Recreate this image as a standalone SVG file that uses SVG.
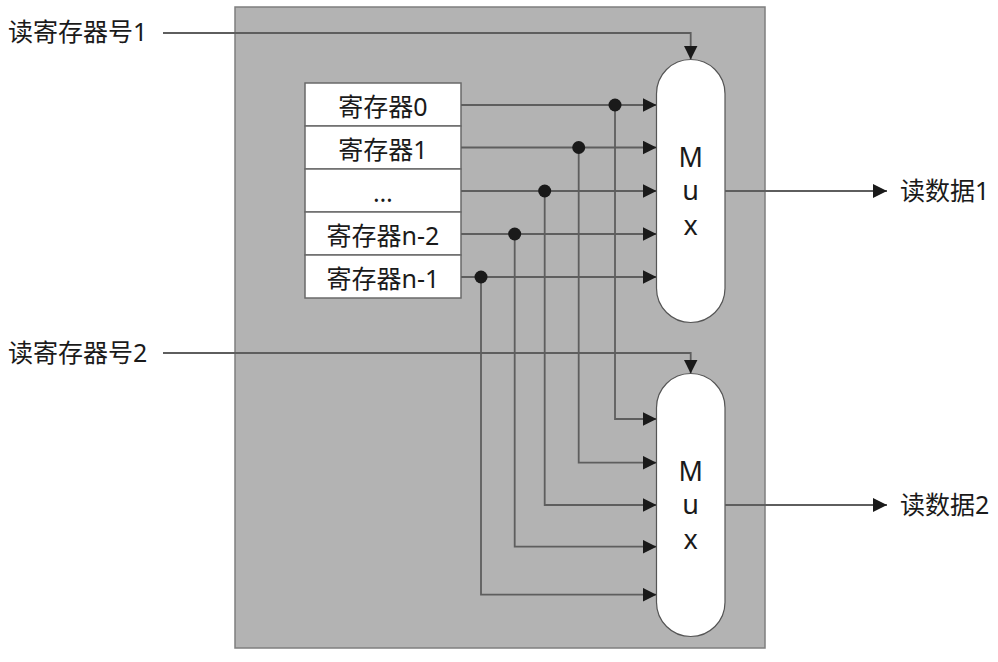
<svg xmlns="http://www.w3.org/2000/svg" width="998" height="662" viewBox="0 0 998 662">
<style>
.t{font-family:"Noto Sans","Noto Sans CJK SC",sans-serif;font-size:25px;fill:#1a1a1a}
.m{font-family:"Noto Sans","Noto Sans CJK SC",sans-serif;font-size:27px;fill:#1a1a1a;text-anchor:middle}
.c{text-anchor:middle}
.cell{fill:#ffffff;stroke:#6a6a6a;stroke-width:1.5}
.mux{fill:#ffffff;stroke:#555555;stroke-width:1.2}
.w{fill:none;stroke:#5e5e5e;stroke-width:1.8}
.dot{fill:#1a1a1a}
</style>
<defs>
<marker id="ah" viewBox="0 0 14 14" markerWidth="14" markerHeight="14" refX="14" refY="7" markerUnits="userSpaceOnUse" orient="auto">
<path d="M0,0 L14,7 L0,14 z" fill="#1a1a1a"/>
</marker>
</defs>
<g id="bank">
<rect x="235" y="7" width="530" height="641" fill="#b3b3b3" stroke="#7f7f7f" stroke-width="1.5"/>
</g>
<g id="regfile">
<rect class="cell" x="305" y="83" width="156" height="43"/>
<rect class="cell" x="305" y="126" width="156" height="43"/>
<rect class="cell" x="305" y="169" width="156" height="43"/>
<rect class="cell" x="305" y="212" width="156" height="43"/>
<rect class="cell" x="305" y="255" width="156" height="43"/>
<text class="t c" x="383" y="116">寄存器0</text>
<text class="t c" x="383" y="159">寄存器1</text>
<text class="t c" x="383" y="202">…</text>
<text class="t c" x="383" y="245">寄存器n-2</text>
<text class="t c" x="383" y="288">寄存器n-1</text>
</g>
<g id="mux1">
<rect class="mux" x="656.5" y="59.5" width="68.5" height="263" rx="34.25" ry="34.25"/>
<text class="m" x="690.7" y="166.7">M</text>
<text class="m" x="690.7" y="200">u</text>
<text class="m" x="690.7" y="235">x</text>
</g>
<g id="mux2">
<rect class="mux" x="656.5" y="373.5" width="68.5" height="263" rx="34.25" ry="34.25"/>
<text class="m" x="690.7" y="480.7">M</text>
<text class="m" x="690.7" y="514">u</text>
<text class="m" x="690.7" y="549">x</text>
</g>
<g id="labels">
<text class="t" x="8" y="41">读寄存器号1</text>
<text class="t" x="8" y="362">读寄存器号2</text>
<text class="t" x="900" y="200">读数据1</text>
<text class="t" x="900" y="514">读数据2</text>
</g>
<g id="connectors">
<path class="w" d="M163,33 H690.7 V59.5" marker-end="url(#ah)"/>
<path class="w" d="M163,353 H690.7 V373.5" marker-end="url(#ah)"/>
<path class="w" d="M725,191 H887" marker-end="url(#ah)"/>
<path class="w" d="M725,505 H887" marker-end="url(#ah)"/>
<path class="w" d="M461,105 H656.5" marker-end="url(#ah)"/>
<path class="w" d="M461,147.5 H656.5" marker-end="url(#ah)"/>
<path class="w" d="M461,191 H656.5" marker-end="url(#ah)"/>
<path class="w" d="M461,234 H656.5" marker-end="url(#ah)"/>
<path class="w" d="M461,277 H656.5" marker-end="url(#ah)"/>
<path class="w" d="M615,105 V419 H656.5" marker-end="url(#ah)"/>
<path class="w" d="M578.7,147.5 V462.7 H656.5" marker-end="url(#ah)"/>
<path class="w" d="M544.7,191 V505 H656.5" marker-end="url(#ah)"/>
<path class="w" d="M514.7,234 V546.7 H656.5" marker-end="url(#ah)"/>
<path class="w" d="M481,277 V594.7 H656.5" marker-end="url(#ah)"/>
<circle class="dot" cx="615" cy="105" r="6.5"/>
<circle class="dot" cx="578.7" cy="147.5" r="6.5"/>
<circle class="dot" cx="544.7" cy="191" r="6.5"/>
<circle class="dot" cx="514.7" cy="234" r="6.5"/>
<circle class="dot" cx="481" cy="277" r="6.5"/>
</g>
</svg>
